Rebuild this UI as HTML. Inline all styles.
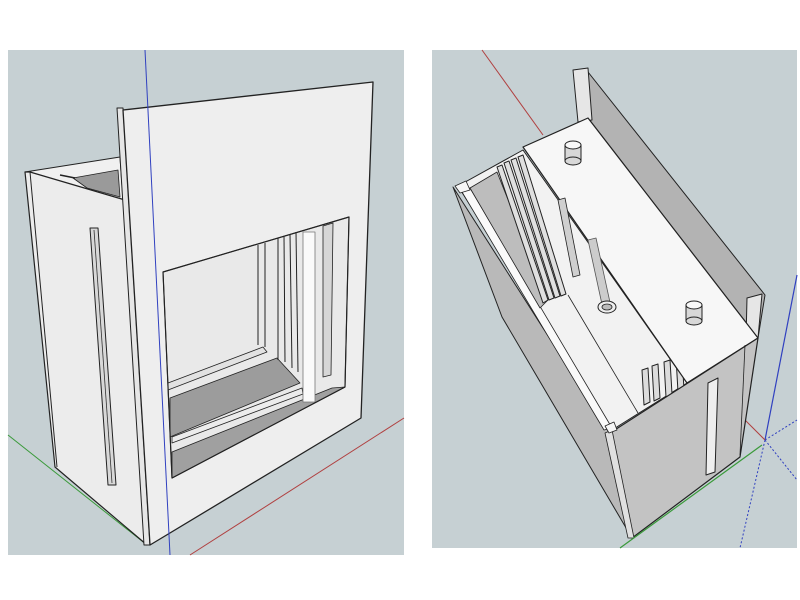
<!DOCTYPE html>
<html><head><style>body{margin:0;background:#fff}svg{display:block}</style></head>
<body>
<svg width="800" height="600" viewBox="0 0 800 600" xmlns="http://www.w3.org/2000/svg" stroke-linejoin="round">
<rect x="0" y="0" width="800" height="600" fill="#fff"/>
<!-- LEFT PANEL -->
<rect x="8" y="50" width="396" height="505" fill="#c6d0d3"/>
<line x1="8" y1="435" x2="147" y2="545" stroke="#3a9a3a" stroke-width="1"/>
<line x1="190" y1="555" x2="404" y2="418" stroke="#b04040" stroke-width="1"/>
<polygon points="25,172 120,157 123,200" fill="#f0f0f0" stroke="#222" stroke-width="1"/>
<polygon points="73,178 118,170 120,197 87,188" fill="#9a9a9a" stroke="#222" stroke-width="0.8"/>
<line x1="60" y1="175" x2="75" y2="178" stroke="#222" stroke-width="1.5"/>
<polygon points="25,172 30,172 125,200 147,545 55,467" fill="#ececec" stroke="#222" stroke-width="1.2"/>
<line x1="30" y1="172" x2="57" y2="467" stroke="#222" stroke-width="1"/>
<polygon points="90,228 98,228 116,485 108,485" fill="#d8d8d8" stroke="#222" stroke-width="1"/>
<line x1="94" y1="230" x2="112" y2="483" stroke="#333" stroke-width="0.8"/>
<polygon points="117,108 123,108 150,545 144,545" fill="#e6e6e6" stroke="#222" stroke-width="1"/>
<polygon points="123,110 373,82 361,418 150,545" fill="#eeeeee" stroke="#222" stroke-width="1.3"/>
<polygon points="163,272 349,217 345,387 172,478" fill="#e9e9e9" stroke="#222" stroke-width="1"/>
<polygon points="168,383 263,347 267,352 168,390" fill="#e2e2e2" stroke="#222" stroke-width="0.8"/>
<polygon points="170,398 277,358 300,383 170,437" fill="#9c9c9c" stroke="#222" stroke-width="0.8"/>
<polygon points="172,437 302,388 303,394 172,443" fill="#ececec" stroke="#222" stroke-width="0.8"/>
<polygon points="172,452 332,388 345,387 172,478" fill="#a0a0a0" stroke="#222" stroke-width="0.8"/>
<g stroke="#222" stroke-width="1">
<line x1="258" y1="245" x2="258" y2="345"/>
<line x1="265" y1="243" x2="265" y2="347"/>
<line x1="278" y1="238" x2="278" y2="360"/>
<line x1="284" y1="236" x2="285" y2="362"/>
<line x1="290" y1="234" x2="292" y2="368"/>
<line x1="296" y1="232" x2="298" y2="372"/>
</g>
<rect x="303" y="232" width="12" height="170" fill="#fafafa" stroke="#777" stroke-width="0.8"/>
<polygon points="323,226 333,223 331,375 323,377" fill="#d6d6d6" stroke="#222" stroke-width="0.8"/>
<polygon points="163,272 349,217 345,387 172,478" fill="none" stroke="#222" stroke-width="1.2"/>
<line x1="145" y1="50" x2="170" y2="555" stroke="#3040c0" stroke-width="1"/>

<!-- RIGHT PANEL -->
<rect x="432" y="50" width="365" height="498" fill="#c6d0d3"/>
<line x1="482" y1="50" x2="543" y2="135" stroke="#b04040" stroke-width="1"/>
<line x1="797" y1="275" x2="765" y2="440" stroke="#3040c0" stroke-width="1.2"/>
<line x1="765" y1="440" x2="740" y2="548" stroke="#3040c0" stroke-width="1" stroke-dasharray="2,2"/>
<line x1="765" y1="440" x2="797" y2="420" stroke="#3040c0" stroke-width="1" stroke-dasharray="2,2"/>
<line x1="765" y1="440" x2="797" y2="480" stroke="#3040c0" stroke-width="1" stroke-dasharray="2,2"/>
<line x1="745" y1="420" x2="765" y2="440" stroke="#b04040" stroke-width="1"/>
<polygon points="453,187 610,433 632,538 502,317" fill="#b9b9b9" stroke="#222" stroke-width="1"/>
<polygon points="458,186 523,150 687,383 612,430" fill="#f2f2f2" stroke="#222" stroke-width="1"/>
<polygon points="462,192 470,188 612,428 604,430" fill="#fafafa" stroke="#222" stroke-width="0.8"/>
<polygon points="470,188 497,172 548,300 540,308" fill="#bdbdbd" stroke="#222" stroke-width="0.8"/>
<line x1="568" y1="295" x2="638" y2="413" stroke="#222" stroke-width="0.8"/>
<g stroke="#222" stroke-width="1" fill="#e0e0e0">
<polygon points="497,167 502,165 548,300 543,303"/>
<polygon points="504,163 509,161 554,298 549,300"/>
<polygon points="511,160 516,158 560,296 555,298"/>
<polygon points="518,157 523,155 566,294 561,296"/>
</g>
<g stroke="#222" stroke-width="1" fill="#dcdcdc">
<polygon points="642,370 648,368 650,402 644,405"/>
<polygon points="652,366 658,364 660,398 654,401"/>
<polygon points="664,362 670,360 672,394 666,397"/>
<polygon points="676,357 682,355 684,390 678,392"/>
</g>
<polygon points="588,72 765,295 758,338 588,118" fill="#b3b3b3" stroke="#222" stroke-width="1"/>
<polygon points="573,70 588,68 592,120 578,122" fill="#e6e6e6" stroke="#222" stroke-width="1"/>
<polygon points="747,298 762,294 758,338 746,340" fill="#e6e6e6" stroke="#222" stroke-width="1"/>
<polygon points="523,147 588,118 758,338 687,383" fill="#f7f7f7" stroke="#222" stroke-width="1.2"/>
<polygon points="558,200 565,198 580,275 573,277" fill="#cfcfcf" stroke="#222" stroke-width="0.8"/>
<polygon points="588,240 596,238 611,307 603,309" fill="#cccccc" stroke="#555" stroke-width="0.8"/>
<ellipse cx="607" cy="307" rx="9" ry="6" fill="#eee" stroke="#222" stroke-width="1"/>
<ellipse cx="607" cy="307" rx="5" ry="3" fill="#bbb" stroke="#222" stroke-width="0.8"/>
<g stroke="#222" stroke-width="1">
<rect x="565" y="145" width="16" height="16" fill="#d8d8d8"/>
<ellipse cx="573" cy="161" rx="8" ry="4" fill="#d8d8d8"/>
<ellipse cx="573" cy="145" rx="8" ry="4" fill="#f8f8f8"/>
<rect x="686" y="305" width="16" height="16" fill="#d8d8d8"/>
<ellipse cx="694" cy="321" rx="8" ry="4" fill="#d8d8d8"/>
<ellipse cx="694" cy="305" rx="8" ry="4" fill="#f8f8f8"/>
</g>
<polygon points="610,433 758,338 740,457 632,538" fill="#c3c3c3" stroke="#222" stroke-width="1.2"/>
<polygon points="605,433 612,430 634,538 628,538" fill="#e0e0e0" stroke="#222" stroke-width="0.8"/>
<polygon points="708,383 718,378 715,472 706,475" fill="#eeeeee" stroke="#222" stroke-width="1"/>
<line x1="745" y1="345" x2="740" y2="455" stroke="#222" stroke-width="0.8"/>
<polygon points="455,186 466,181 470,190 460,193" fill="#f6f6f6" stroke="#222" stroke-width="0.8"/>
<polygon points="605,426 614,422 617,430 609,433" fill="#f6f6f6" stroke="#222" stroke-width="0.8"/>
<line x1="620" y1="548" x2="762" y2="445" stroke="#3a9a3a" stroke-width="1.2"/>
</svg>
</body></html>
